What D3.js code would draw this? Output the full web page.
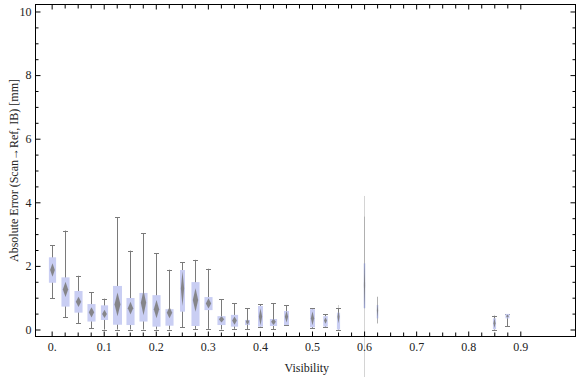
<!DOCTYPE html>
<html>
<head>
<meta charset="utf-8">
<script src="https://cdn.jsdelivr.net/npm/d3@7"></script>
<style>
  body { margin: 0; background: #fff; }
  text { font-family: "Liberation Serif", "Times New Roman", serif; font-size: 12px; fill: #222; }
</style>
</head>
<body>
<div id="chart"></div>
<script>
// visibility bins
var visibility = [0, 0.025, 0.05, 0.075, 0.1, 0.125, 0.15, 0.175, 0.2, 0.225, 0.25, 0.275, 0.3,
    0.325, 0.35, 0.375, 0.4, 0.425, 0.45, 0.5, 0.525, 0.55, 0.6, 0.625, 0.85, 0.875];
var whiskerHi = [2.65, 3.11, 1.69, 1.17, 0.97, 3.53, 2.48, 3.03, 2.40, 1.88, 2.11, 2.19, 1.91,
    0.95, 0.82, 0.67, 0.79, 0.82, 0.76, 0.67, 0.48, 0.67, 3.55, 1.03, 0.42, 0.48];
var q3 = [2.27, 1.64, 1.21, 0.80, 0.76, 1.37, 0.99, 1.15, 1.08, 0.64, 1.87, 1.49, 1.02,
    0.42, 0.46, 0.30, 0.74, 0.33, 0.58, 0.64, 0.42, 0.53, 2.08, 0.77, 0.35, 0.49];
var median = [1.87, 1.26, 0.87, 0.54, 0.49, 0.79, 0.67, 0.84, 0.64, 0.53, 1.29, 0.93, 0.82,
    0.32, 0.28, 0.24, 0.40, 0.24, 0.40, 0.35, 0.28, 0.40, 1.40, 0.60, 0.20, 0.42];
var q1 = [1.47, 0.72, 0.53, 0.25, 0.30, 0.15, 0.14, 0.25, 0.09, 0.12, 0.56, 0.11, 0.61,
    0.14, 0.09, 0.14, 0.09, 0.11, 0.14, 0.07, 0.09, 0.00, 0.67, 0.35, 0.01, 0.35];
var whiskerLo = [0.98, 0.38, 0.19, 0.04, 0.00, 0.00, 0.00, 0.00, 0.00, 0.00, 0.07, 0.02, 0.02,
    0.00, 0.02, 0.01, 0.09, 0.01, 0.13, 0.04, 0.07, 0.00, 0.67, 0.19, 0.00, 0.10];
var spread = [0.21, 0.24, 0.16, 0.16, 0.13, 0.37, 0.20, 0.39, 0.29, 0.18, 0.55, 0.37, 0.16,
    0.10, 0.13, 0.10, 0.27, 0.10, 0.18, 0.22, 0.10, 0.20, 0.70, 0.20, 0.15, 0.05];
var weight = [0.8, 0.9, 0.9, 0.9, 0.8, 1, 0.9, 0.9, 0.9, 0.9, 0.55, 0.9, 0.9,
    0.9, 0.8, 0.55, 0.55, 0.8, 0.55, 0.55, 0.5, 0.35, 0.15, 0.15, 0.35, 0.45];
// faint tails beyond the whiskers (null = none)
var tailHi = [null, null, null, null, null, null, null, null, null, null, null, null, null,
    null, null, null, null, null, null, null, null, 0.77, 4.2, null, 0.46, null];
var tailLo = [null, null, null, null, null, null, null, null, null, null, null, null, null,
    null, null, null, null, null, null, null, null, null, -1.6, null, null, null];

var xTicks = d3.range(0, 0.9001, 0.025);
var xMajor = [0, 0.1, 0.2, 0.3, 0.4, 0.5, 0.6, 0.7, 0.8, 0.9];
var xLabels = ["0.", "0.1", "0.2", "0.3", "0.4", "0.5", "0.6", "0.7", "0.8", "0.9"];
var yTicks = d3.range(0, 10.001, 0.5);
var yMajor = [0, 2, 4, 6, 8, 10];

var w = 576, h = 377;
var pL = 35.5, pR = 575.5, pT = 4.5, pB = 336.5;

var x = d3.scaleLinear().domain([-0.031, 1.006]).range([pL, pR]);
var y = d3.scaleLinear().domain([-0.22, 10.22]).range([pB, pT]);
var wScale = d3.scaleLinear().domain([0, 1]).range([0, 9]);

var svg = d3.select("#chart").append("svg")
    .attr("width", w).attr("height", h);

var rows = visibility.map(function (v, i) {
    return { v: v, hi: whiskerHi[i], q3: q3[i], med: median[i], q1: q1[i], lo: whiskerLo[i],
        s: spread[i], bw: wScale(weight[i]), th: tailHi[i], tl: tailLo[i] };
});

// faint tails
svg.selectAll(".tail")
    .data(rows.filter(function (d) { return d.th !== null; }))
    .enter().append("line")
    .attr("x1", function (d) { return Math.round(x(d.v)) + 0.5; })
    .attr("x2", function (d) { return Math.round(x(d.v)) + 0.5; })
    .attr("y1", function (d) { return y(d.th); })
    .attr("y2", function (d) { return y(d.tl !== null ? d.tl : d.hi); })
    .attr("stroke", "#d4d4d4").attr("stroke-width", 1);

var g = svg.selectAll(".box").data(rows).enter().append("g")
    .attr("transform", function (d) { return "translate(" + (Math.round(x(d.v)) + 0.5) + ",0)"; });

// whiskers
g.append("line")
    .attr("y1", function (d) { return y(d.hi); })
    .attr("y2", function (d) { return y(d.lo); })
    .attr("stroke", function (d) { return d.bw < 2 ? "#b0b0b0" : "#7a7a7a"; })
    .attr("stroke-width", 1);

g.filter(function (d) { return d.bw >= 3; }).each(function (d) {
    var s = d3.select(this);
    [d.hi, d.lo].forEach(function (v) {
        s.append("line").attr("x1", -2.5).attr("x2", 2.5)
            .attr("y1", Math.round(y(v)) + 0.5).attr("y2", Math.round(y(v)) + 0.5)
            .attr("stroke", "#7a7a7a");
    });
});

// boxes
g.append("rect")
    .attr("x", function (d) { return -d.bw / 2; })
    .attr("width", function (d) { return d.bw; })
    .attr("y", function (d) { return y(d.q3); })
    .attr("height", function (d) { return y(d.q1) - y(d.q3); })
    .attr("fill", function (d) { return d.bw < 2 ? "#9aa2cf" : "#c9cef3"; });

// median diamonds
g.append("path")
    .attr("d", function (d) {
        var dw = Math.max(d.bw * 0.33, 0.6);
        var yt = y(d.med + d.s), yb = y(d.med - d.s), ym = y(d.med);
        return "M0," + yt + "L" + dw + "," + ym + "L0," + yb + "L" + (-dw) + "," + ym + "Z";
    })
    .attr("fill", "#7d7d7d")
    .attr("opacity", 0.9);

// frame
svg.append("rect")
    .attr("x", pL).attr("y", pT)
    .attr("width", pR - pL).attr("height", pB - pT)
    .attr("fill", "none").attr("stroke", "#000").attr("stroke-width", 1);

function isMajorX(t) { return xMajor.some(function (m) { return Math.abs(m - t) < 1e-6; }); }
function isMajorY(t) { return yMajor.indexOf(t) >= 0; }

// bottom axis
var gx = svg.append("g").attr("transform", "translate(0," + pB + ")")
    .call(d3.axisBottom(x).tickValues(xTicks).tickSizeInner(-4).tickSizeOuter(0).tickPadding(6)
        .tickFormat(function (t) {
            var k = xMajor.findIndex(function (m) { return Math.abs(m - t) < 1e-6; });
            return k >= 0 ? xLabels[k] : "";
        }));
// top ticks
var gxt = svg.append("g").attr("transform", "translate(0," + pT + ")")
    .call(d3.axisTop(x).tickValues(xTicks).tickSizeInner(-4).tickSizeOuter(0).tickFormat(""));
// left axis
var gy = svg.append("g").attr("transform", "translate(" + pL + ",0)")
    .call(d3.axisLeft(y).tickValues(yTicks).tickSizeInner(-3).tickSizeOuter(0).tickPadding(4)
        .tickFormat(function (t) { return isMajorY(t) ? t : ""; }));
// right ticks
var gyr = svg.append("g").attr("transform", "translate(" + pR + ",0)")
    .call(d3.axisRight(y).tickValues(yTicks).tickSizeInner(-3).tickSizeOuter(0).tickFormat(""));

gy.selectAll(".tick line").filter(isMajorY).attr("x2", 5);
gyr.selectAll(".tick line").filter(isMajorY).attr("x2", -5);
gx.selectAll(".tick line").filter(isMajorX).attr("y2", -5);
gxt.selectAll(".tick line").filter(isMajorX).attr("y2", 5);

[gx, gxt, gy, gyr].forEach(function (a) {
    a.select(".domain").remove();
    a.selectAll(".tick line").attr("stroke", "#000");
    a.selectAll("text").attr("fill", null);
    a.attr("font-family", null).attr("font-size", null);
});

// axis titles
svg.append("text")
    .attr("x", x(0.49)).attr("y", 372)
    .attr("text-anchor", "middle")
    .text("Visibility");

svg.append("text")
    .attr("transform", "translate(18," + ((pT + pB) / 2) + ") rotate(-90)")
    .attr("text-anchor", "middle")
    .text("Absolute Error (Scan\u2192Ref, IB) [mm]");
</script>
</body>
</html>
